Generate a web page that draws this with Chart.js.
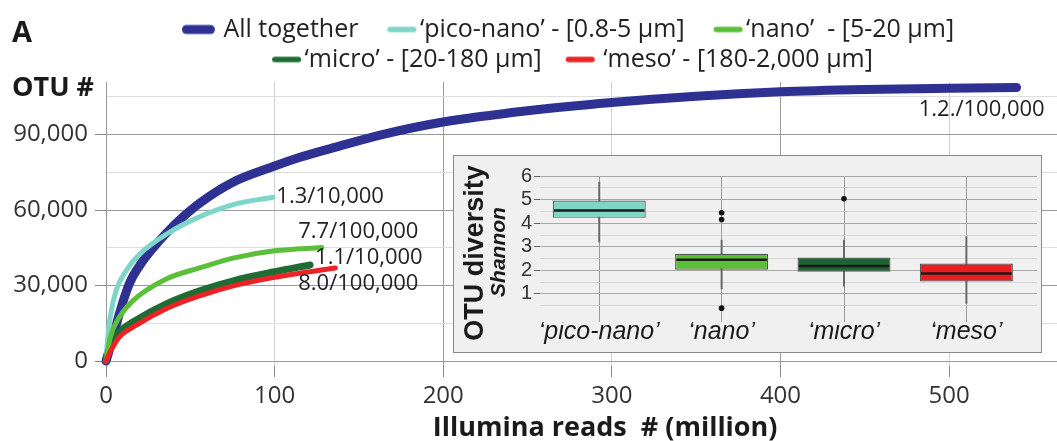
<!DOCTYPE html>
<html>
<head>
<meta charset="utf-8">
<script src="https://cdn.jsdelivr.net/npm/chart.js@4.4.1/dist/chart.umd.min.js"></script>
<style>
  html, body { margin: 0; padding: 0; background: #fff; }
  #wrap { position: relative; width: 1057px; height: 441px; }
  #main { position: absolute; left: 0; top: 0; }
  #inset { position: absolute; left: 453px; top: 155px; width: 587px; height: 196px;
           border: 1px solid #8a8a8a; background: #f0f0f0; }
  #box { display: block; }
</style>
</head>
<body>
<div id="wrap">
  <canvas id="main" width="1057" height="441"></canvas>
  <div id="inset"><canvas id="box" width="587" height="196"></canvas></div>
</div>
<script>
// rarefaction curves: reads (million) vs OTU count
const seriesNames = ["All together", "\u2018pico-nano\u2019 - [0.8-5 \u00b5m]", "\u2018nano\u2019  - [5-20 \u00b5m]",
                     "\u2018micro\u2019 - [20-180 \u00b5m]", "\u2018meso\u2019 - [180-2,000 \u00b5m]"];

const readsAll = [0, 4, 8, 14, 20, 28, 36, 46, 56, 75, 100, 115, 135, 165, 200, 250, 300, 350, 400, 450, 500, 540];
const otuAll   = [0, 9000, 19000, 31000, 38000, 45000, 51000, 57500, 63000, 71000, 77500, 81000, 84800, 90200, 95000, 99500, 102800, 105300, 107000, 107900, 108400, 108700];

const readsPico = [0, 1, 2.5, 6, 12, 20, 36, 56, 76, 99];
const otuPico   = [0, 9000, 17500, 28000, 36000, 42500, 50500, 57500, 62300, 65100];

const readsNano = [0, 2.5, 8, 16, 36, 56, 76, 100, 128];
const otuNano   = [0, 9500, 17500, 24000, 32700, 37100, 41000, 43800, 45100];

const readsMicro = [0, 2.5, 8, 16, 36, 56, 76, 100, 121];
const otuMicro   = [0, 5700, 11600, 15500, 22800, 28000, 32000, 35500, 38200];

const readsMeso = [0, 2.5, 8, 16, 36, 56, 76, 100, 136];
const otuMeso   = [0, 3700, 9600, 13500, 20900, 26000, 30000, 33300, 37000];

const xTicks = [0, 100, 200, 300, 400, 500];
const yTicks = [0, 15000, 30000, 45000, 60000, 75000, 90000, 105000];

// slope labels at the end of each curve
const endLabels = ["1.2./100,000", "1.3/10,000", "7.7/100,000", "1.1/10,000", "8.0/100,000"];

// inset: Shannon diversity per size fraction
const boxCats     = ["\u2018pico-nano\u2019", "\u2018nano\u2019", "\u2018micro\u2019", "\u2018meso\u2019"];
const whiskerLow  = [3.2, 1.21, 1.32, 0.59];
const whiskerHigh = [5.75, 3.28, 3.28, 3.43];
const q1          = [4.23, 2.02, 1.94, 1.52];
const q3          = [4.97, 2.70, 2.54, 2.29];
const medians     = [4.54, 2.45, 2.18, 1.86];
const outlierCat  = [2, 2, 2, 3];
const outlierVal  = [4.45, 4.16, 0.39, 5.04];
const shannonTicks = [0.5, 1, 1.5, 2, 2.5, 3, 3.5, 4, 4.5, 5, 5.5, 6];

// ---- styles / placement ----
const lineColors = ["#2e3192", "#7fd5c8", "#5cbf3a", "#1f6b34", "#ec2227"];
const lineWidths = [9, 5, 5, 7, 5];
const drawOrder  = [5, 4, 2, 3, 1];
const legendThick = [9, 5.5, 5.5, 5.5, 5.5];
const sampleLen  = [33, 29, 29, 29, 29];
const sampleGap  = [8, 3, 3, 3, 8];
const boxColors  = ["#7fd6c8", "#5abf35", "#1f6332", "#ed1c24"];
// anchor (reads, OTU) for each end label
const labelAnchor = [[482, 99700], [101, 65500], [114, 51300], [124, 41250], [114, 30800]];

Chart.defaults.font.family = "'Open Sans'";
Chart.defaults.color = "#333";

function pairs(xs, ys) {
  return xs.map((x, i) => ({ x: x, y: ys[i] }));
}

function legendSample(color, width, len, gap) {
  const c = document.createElement("canvas");
  c.width = 66;
  c.height = 14;
  const g = c.getContext("2d");
  g.strokeStyle = color;
  g.lineWidth = width;
  g.lineCap = "round";
  const end = 67 - gap;
  g.beginPath();
  g.moveTo(end - len + width / 2, 7);
  g.lineTo(end - width / 2, 7);
  g.stroke();
  return c;
}

const curveData = [
  pairs(readsAll, otuAll),
  pairs(readsPico, otuPico),
  pairs(readsNano, otuNano),
  pairs(readsMicro, otuMicro),
  pairs(readsMeso, otuMeso)
];

// legend is centred over the plot a bit right of the canvas centre
const legendShift = {
  id: "legendShift",
  afterLayout(chart) {
    const lg = chart.legend;
    if (!lg) return;
    lg.left = 64;
    lg.width = lg.right - lg.left;
  }
};

const mainText = {
  id: "mainText",
  afterDraw(chart) {
    const { ctx } = chart;
    const x = chart.scales.x, y = chart.scales.y;
    ctx.save();
    ctx.fillStyle = "#1a1a1a";
    ctx.textBaseline = "alphabetic";
    ctx.font = "bold 29px 'Open Sans'";
    ctx.fillText("A", 12, 42);
    ctx.font = "bold 27px 'Open Sans'";
    ctx.fillText("OTU #", 12, 96);
    ctx.textAlign = "center";
    ctx.fillText("Illumina reads  # (million)", x.getPixelForValue(296), 436);

    ctx.textAlign = "left";
    ctx.textBaseline = "middle";
    ctx.font = "22px 'Open Sans'";
    ctx.fillStyle = "#222";
    endLabels.forEach((t, i) => {
      ctx.fillText(t, x.getPixelForValue(labelAnchor[i][0]), y.getPixelForValue(labelAnchor[i][1]));
    });
    ctx.restore();
  }
};

new Chart(document.getElementById("main"), {
  type: "line",
  data: {
    datasets: seriesNames.map((name, i) => ({
      label: name,
      data: curveData[i],
      borderColor: lineColors[i],
      backgroundColor: lineColors[i],
      borderWidth: lineWidths[i],
      borderCapStyle: "round",
      pointRadius: 0,
      cubicInterpolationMode: "monotone",
      order: drawOrder[i],
      clip: 8
    }))
  },
  options: {
    responsive: false,
    animation: false,
    events: [],
    layout: { padding: { left: 0, top: 12, right: 0, bottom: 0 } },
    plugins: {
      tooltip: { enabled: false },
      legend: {
        position: "top",
        labels: {
          font: { size: 25 },
          color: "#222",
          usePointStyle: true,
          pointStyleWidth: 44,
          padding: 5,
          generateLabels(chart) {
            return chart.data.datasets.map((ds, i) => ({
              text: ds.label,
              pointStyle: legendSample(ds.borderColor, legendThick[i], sampleLen[i], sampleGap[i]),
              fillStyle: ds.borderColor,
              strokeStyle: ds.borderColor,
              lineWidth: 0,
              hidden: false,
              fontColor: "#222",
              datasetIndex: i
            }));
          }
        }
      }
    },
    scales: {
      x: {
        type: "linear",
        min: 0,
        max: 564,
        afterBuildTicks: (s) => { s.ticks = xTicks.map(v => ({ value: v })); },
        afterFit: (s) => { s.height = 75; },
        border: { display: false },
        grid: {
          color: (c) => (c.tick && c.tick.value % 200 === 0) ? "#9a9a9a" : "#d2d2d2",
          tickColor: "#888",
          tickLength: 11
        },
        ticks: { font: { size: 24 }, color: "#333", padding: 5, maxRotation: 0, autoSkip: false }
      },
      y: {
        min: -1974,
        max: 110921,
        afterBuildTicks: (s) => { s.ticks = yTicks.map(v => ({ value: v })); },
        afterFit: (s) => { s.width = 106; },
        border: { color: "#9a9a9a" },
        grid: {
          color: (c) => (c.tick && c.tick.value % 30000 === 0) ? "#9a9a9a" : "#dedede",
          tickColor: (c) => (c.tick && c.tick.value % 30000 === 0) ? "#888" : "rgba(0,0,0,0)",
          tickLength: 11
        },
        ticks: {
          font: { size: 24 },
          color: "#333",
          padding: 7,
          autoSkip: false,
          callback: (v) => v % 30000 === 0 ? v.toLocaleString("en-US") : ""
        }
      }
    }
  },
  plugins: [legendShift, mainText]
});

// ---- inset boxplot ----
const insetText = {
  id: "insetText",
  afterDraw(chart) {
    const { ctx } = chart;
    ctx.save();
    ctx.fillStyle = "#1a1a1a";
    ctx.textAlign = "center";
    ctx.textBaseline = "middle";
    ctx.translate(22, 97);
    ctx.rotate(-Math.PI / 2);
    ctx.font = "bold 27px 'Liberation Sans'";
    ctx.fillText("OTU diversity", 0, 0);
    ctx.restore();
    ctx.save();
    ctx.fillStyle = "#1a1a1a";
    ctx.textAlign = "center";
    ctx.textBaseline = "middle";
    ctx.translate(45, 96);
    ctx.rotate(-Math.PI / 2);
    ctx.font = "italic bold 21px 'Liberation Sans'";
    ctx.fillText("Shannon", 0, 0);
    ctx.restore();
  }
};

const catIdx = boxCats.map((c, i) => i + 1);

new Chart(document.getElementById("box"), {
  type: "bar",
  data: {
    datasets: [
      {
        label: "whisker",
        data: catIdx.map((x, i) => ({ x: x, y: [whiskerLow[i], whiskerHigh[i]] })),
        backgroundColor: "#666",
        barThickness: 1.3,
        grouped: false,
        order: 3
      },
      {
        label: "box",
        data: catIdx.map((x, i) => ({ x: x, y: [q1[i], q3[i]] })),
        backgroundColor: boxColors,
        borderColor: "#555",
        borderWidth: 1.2,
        borderSkipped: false,
        barPercentage: 0.76,
        categoryPercentage: 1,
        grouped: false,
        order: 2
      },
      {
        label: "median",
        data: catIdx.map((x, i) => ({ x: x, y: [medians[i] - 0.055, medians[i] + 0.055] })),
        backgroundColor: "#1a1a1a",
        barPercentage: 0.74,
        categoryPercentage: 1,
        grouped: false,
        order: 1
      },
      {
        type: "scatter",
        label: "outlier",
        data: outlierCat.map((c, i) => ({ x: c, y: outlierVal[i] })),
        backgroundColor: "#111",
        borderWidth: 0,
        pointRadius: 2.8,
        order: 0
      }
    ]
  },
  options: {
    responsive: false,
    animation: false,
    events: [],
    layout: { padding: { left: 0, top: 20, right: 1, bottom: 0 } },
    plugins: { legend: { display: false }, tooltip: { enabled: false } },
    scales: {
      x: {
        type: "linear",
        offset: false,
        min: 0.516,
        max: 4.577,
        afterBuildTicks: (s) => { s.ticks = catIdx.map(v => ({ value: v })); },
        afterFit: (s) => { s.height = 30; },
        border: { display: false },
        grid: { offset: false, color: "#9a9a9a", drawTicks: false, tickLength: 0 },
        ticks: {
          font: { family: "'Liberation Sans'", size: 25, style: "italic", lineHeight: 0.8 },
          color: "#1a1a1a",
          padding: 0,
          maxRotation: 0,
          autoSkip: false,
          callback: (v) => boxCats[v - 1]
        }
      },
      y: {
        min: -0.2,
        max: 6.01,
        afterBuildTicks: (s) => { s.ticks = shannonTicks.map(v => ({ value: v })); },
        afterFit: (s) => { s.width = 86; },
        border: { display: false },
        grid: {
          color: (c) => (c.tick && Number.isInteger(c.tick.value)) ? "#a8a8a8" : "#d6d6d6",
          tickColor: (c) => (c.tick && Number.isInteger(c.tick.value)) ? "#666" : "rgba(0,0,0,0)",
          tickLength: 6
        },
        ticks: {
          font: { family: "'Liberation Sans'", size: 20 },
          color: "#333",
          padding: 2,
          autoSkip: false,
          callback: (v) => Number.isInteger(v) ? String(v) : ""
        }
      }
    }
  },
  plugins: [insetText]
});
</script>
</body>
</html>
